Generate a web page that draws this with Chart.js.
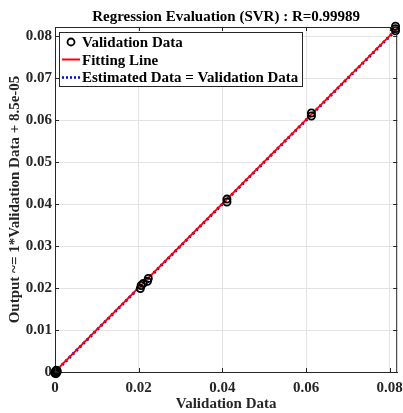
<!DOCTYPE html>
<html>
<head>
<meta charset="utf-8">
<script src="https://cdn.jsdelivr.net/npm/chart.js@4.4.1/dist/chart.umd.min.js"></script>
<style>
  html, body { margin: 0; padding: 0; background: #fff; }
  #wrap { width: 403px; height: 413px; }
</style>
</head>
<body>
<div id="wrap"><canvas id="regChart" width="403" height="413"></canvas></div>
<script>
// Data
const valX = [0, 0.0005, 0.00025, 0.00025, 0.0005, 0, 0.0204, 0.0206, 0.0211, 0.0221, 0.0223, 0.0411, 0.0411, 0.0613, 0.0613, 0.0814, 0.0814, 0.0814];
const valY = [0, 0, 0.0004, -0.0004, 0.0003, -0.0003, 0.0199, 0.0206, 0.0211, 0.0216, 0.0223, 0.0405, 0.0412, 0.0610, 0.0617, 0.0813, 0.0818, 0.0824];
const fitX = [0, 0.0816];
const fitY = [0.000085, 0.081685];
const idX = [0, 0.0816];
const idY = [0, 0.0816];
const xTicks = [0, 0.02, 0.04, 0.06, 0.08];
const yTicks = [0, 0.01, 0.02, 0.03, 0.04, 0.05, 0.06, 0.07, 0.08];
const xMax = 0.0818;
const yMax = 0.0822;

const FONT = "'Liberation Serif', 'Times New Roman', serif";
const AX = '#262626';

const pts = (xs, ys) => xs.map((x, i) => ({ x: x, y: ys[i] }));
const fmt = v => v === 0 ? '0' : v.toFixed(2);

// Box, inward ticks, x labels, title and legend like the MATLAB figure
const decorPlugin = {
    id: 'decor',
    afterDraw(chart) {
        const ctx = chart.ctx;
        const a = chart.chartArea;
        const xs = chart.scales.x, ys = chart.scales.y;
        ctx.save();
        ctx.strokeStyle = AX;
        ctx.lineWidth = 1;
        ctx.beginPath();
        ctx.moveTo(a.left, a.top + 0.5);
        ctx.lineTo(a.right - 0.5, a.top + 0.5);
        ctx.lineTo(a.right - 0.5, a.bottom);
        ctx.stroke();
        const tl = 4;
        ctx.beginPath();
        xTicks.forEach(v => {
            const px = Math.round(xs.getPixelForValue(v)) + 0.5;
            ctx.moveTo(px, a.bottom); ctx.lineTo(px, a.bottom - tl);
            ctx.moveTo(px, a.top); ctx.lineTo(px, a.top + tl);
        });
        yTicks.forEach(v => {
            const py = Math.round(ys.getPixelForValue(v)) + 0.5;
            ctx.moveTo(a.left, py); ctx.lineTo(a.left + tl, py);
            ctx.moveTo(a.right, py); ctx.lineTo(a.right - tl, py);
        });
        ctx.stroke();

        ctx.font = 'bold 15px ' + FONT;
        ctx.fillStyle = AX;
        ctx.textAlign = 'center';
        ctx.textBaseline = 'alphabetic';
        xTicks.forEach(v => {
            ctx.fillText(fmt(v), xs.getPixelForValue(v), a.bottom + 20);
        });

        // title
        ctx.fillStyle = '#000';
        ctx.fillText('Regression Evaluation (SVR) : R=0.99989', (a.left + a.right) / 2, 21);

        // legend
        const lx = 59.5, ly = 32.5, lw = 243, lh = 54;
        ctx.fillStyle = '#fff';
        ctx.fillRect(lx, ly, lw, lh);
        ctx.strokeStyle = AX;
        ctx.lineWidth = 1;
        ctx.strokeRect(lx, ly, lw, lh);

        ctx.strokeStyle = '#000';
        ctx.lineWidth = 1.8;
        ctx.beginPath();
        ctx.arc(71, 42, 3.5, 0, Math.PI * 2);
        ctx.stroke();

        ctx.strokeStyle = '#ff0000';
        ctx.lineWidth = 2;
        ctx.beginPath();
        ctx.moveTo(62, 59.5); ctx.lineTo(80, 59.5);
        ctx.stroke();

        ctx.strokeStyle = '#0000ff';
        ctx.lineWidth = 2.5;
        ctx.setLineDash([2, 2]);
        ctx.beginPath();
        ctx.moveTo(62, 77.5); ctx.lineTo(80, 77.5);
        ctx.stroke();
        ctx.setLineDash([]);

        ctx.fillStyle = '#000';
        ctx.textAlign = 'left';
        ctx.fillText('Validation Data', 82, 47);
        ctx.fillText('Fitting Line', 82, 65);
        ctx.fillText('Estimated Data = Validation Data', 82, 82);
        ctx.restore();
    }
};

new Chart(document.getElementById('regChart'), {
    type: 'scatter',
    data: {
        datasets: [
            {
                label: 'Validation Data',
                data: pts(valX, valY),
                pointStyle: 'circle',
                pointRadius: 3.6,
                pointBorderWidth: 1.8,
                borderColor: '#000',
                backgroundColor: 'rgba(0,0,0,0)',
                clip: false,
                order: 0
            },
            {
                label: 'Fitting Line',
                type: 'line',
                data: pts(fitX, fitY),
                borderColor: '#ff0000',
                borderWidth: 1.8,
                pointRadius: 0,
                fill: false,
                order: 1
            },
            {
                label: 'Estimated Data = Validation Data',
                type: 'line',
                data: pts(idX, idY),
                borderColor: '#0000ff',
                borderWidth: 3,
                borderDash: [2, 3],
                pointRadius: 0,
                fill: false,
                order: 2
            }
        ]
    },
    options: {
        responsive: false,
        animation: false,
        events: [],
        layout: { padding: { top: 27, right: 1, left: 0, bottom: 0 } },
        plugins: { legend: { display: false }, tooltip: { enabled: false }, title: { display: false } },
        scales: {
            x: {
                type: 'linear',
                min: 0,
                max: xMax,
                afterBuildTicks: s => { s.ticks = xTicks.map(v => ({ value: v })); },
                afterFit: s => { s.height = 41; s.paddingLeft = 0; s.paddingRight = 0; },
                ticks: { display: false, includeBounds: false },
                grid: { color: '#e3e3e3', drawTicks: false },
                border: { color: AX, width: 1 },
                title: {
                    display: true,
                    text: 'Validation Data',
                    color: AX,
                    padding: { top: 0, bottom: 0 },
                    font: { family: FONT, size: 15, weight: 'bold' }
                }
            },
            y: {
                type: 'linear',
                min: 0,
                max: yMax,
                afterBuildTicks: s => { s.ticks = yTicks.map(v => ({ value: v })); },
                afterFit: s => { s.width = 55; s.paddingTop = 0; s.paddingBottom = 0; },
                ticks: {
                    includeBounds: false,
                    callback: v => fmt(v),
                    color: AX,
                    padding: 3,
                    font: { family: FONT, size: 15, weight: 'bold' }
                },
                grid: { color: '#e3e3e3', drawTicks: false },
                border: { color: AX, width: 1 },
                title: {
                    display: true,
                    text: 'Output ~= 1*Validation Data + 8.5e-05',
                    color: AX,
                    padding: { top: 6, bottom: 0 },
                    font: { family: FONT, size: 15, weight: 'bold' }
                }
            }
        }
    },
    plugins: [decorPlugin]
});
</script>
</body>
</html>
